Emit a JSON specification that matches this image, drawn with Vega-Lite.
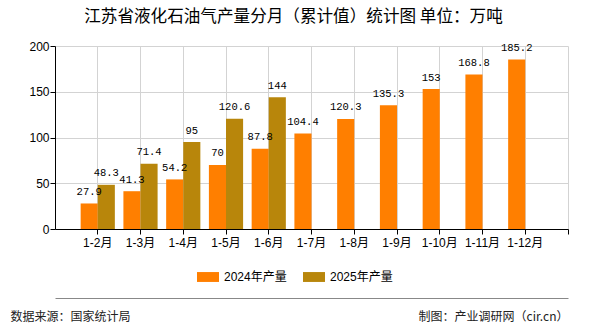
{
  "$schema": "https://vega.github.io/schema/vega-lite/v6.json",
  "width": 513,
  "height": 183,
  "autosize": {"type": "none"},
  "padding": {"left": 55, "top": 46, "right": 22, "bottom": 101},
  "background": "white",
  "title": {
    "text": "江苏省液化石油气产量分月（累计值）统计图 单位：万吨",
    "font": "Noto Sans CJK SC",
    "fontSize": 16.6,
    "fontWeight": "normal",
    "color": "#000000",
    "anchor": "middle",
    "frame": "group",
    "dx": -18,
    "offset": 14
  },
  "data": {
    "values": [
      {"month": "1-2月", "series": "2024年产量", "value": 27.9},
      {"month": "1-3月", "series": "2024年产量", "value": 41.3},
      {"month": "1-4月", "series": "2024年产量", "value": 54.2},
      {"month": "1-5月", "series": "2024年产量", "value": 70},
      {"month": "1-6月", "series": "2024年产量", "value": 87.8},
      {"month": "1-7月", "series": "2024年产量", "value": 104.4},
      {"month": "1-8月", "series": "2024年产量", "value": 120.3},
      {"month": "1-9月", "series": "2024年产量", "value": 135.3},
      {"month": "1-10月", "series": "2024年产量", "value": 153},
      {"month": "1-11月", "series": "2024年产量", "value": 168.8},
      {"month": "1-12月", "series": "2024年产量", "value": 185.2},
      {"month": "1-2月", "series": "2025年产量", "value": 48.3},
      {"month": "1-3月", "series": "2025年产量", "value": 71.4},
      {"month": "1-4月", "series": "2025年产量", "value": 95},
      {"month": "1-5月", "series": "2025年产量", "value": 120.6},
      {"month": "1-6月", "series": "2025年产量", "value": 144}
    ]
  },
  "layer": [
    {
      "mark": {"type": "bar"},
      "encoding": {
        "x": {
          "field": "month",
          "type": "nominal",
          "sort": null,
          "scale": {
            "domain": ["1-2月", "1-3月", "1-4月", "1-5月", "1-6月", "1-7月", "1-8月", "1-9月", "1-10月", "1-11月", "1-12月", ""],
            "paddingInner": 0,
            "paddingOuter": 0
          },
          "axis": {
            "orient": "bottom",
            "bandPosition": 1,
            "labelOffset": 21.375,
            "labelAngle": 0,
            "labelFont": "Liberation Sans, Noto Sans CJK SC",
            "labelFontSize": 12,
            "labelColor": "#000000",
            "labelPadding": 3,
            "tickColor": "#000000",
            "tickSize": 5,
            "domainColor": "#000000",
            "domainWidth": 1,
            "grid": true,
            "gridColor": "#d3d3d3",
            "gridWidth": 1,
            "title": "数据来源：国家统计局",
            "titleFont": "Noto Sans CJK SC",
            "titleFontSize": 12,
            "titleFontWeight": "normal",
            "titleColor": "#222222",
            "titleX": -45,
            "titleY": 91,
            "titleAlign": "left",
            "titleBaseline": "alphabetic"
          }
        },
        "xOffset": {
          "field": "series",
          "type": "nominal",
          "scale": {"domain": ["2024年产量", "2025年产量"], "range": [25.65, 59.85], "paddingInner": 0, "paddingOuter": 0}
        },
        "y": {
          "field": "value",
          "type": "quantitative",
          "scale": {"domain": [0, 200], "nice": false},
          "axis": {
            "values": [0, 50, 100, 150, 200],
            "title": null,
            "labelFont": "Liberation Sans",
            "labelFontSize": 12,
            "labelColor": "#000000",
            "labelPadding": 1,
            "tickColor": "#000000",
            "tickSize": 5,
            "domainColor": "#000000",
            "grid": true,
            "gridColor": "#d3d3d3",
            "gridWidth": 1
          }
        },
        "color": {
          "field": "series",
          "type": "nominal",
          "scale": {"domain": ["2024年产量", "2025年产量"], "range": ["#FF7F00", "#B8860B"]},
          "legend": {
            "orient": "none",
            "direction": "horizontal",
            "legendX": 142,
            "legendY": 220,
            "title": null,
            "symbolType": "M-1,-0.45H1V0.45H-1Z",
            "symbolSize": 484,
            "symbolStrokeWidth": 0,
            "labelFont": "Liberation Sans, Noto Sans CJK SC",
            "labelFontSize": 12,
            "labelColor": "#000000",
            "labelOffset": 5,
            "columnPadding": 16
          }
        }
      }
    },
    {
      "mark": {"type": "text", "font": "Liberation Mono", "fontSize": 10.5, "color": "#000000", "baseline": "alphabetic", "dy": -8.5},
      "encoding": {
        "x": {
          "field": "month",
          "type": "nominal",
          "sort": null,
          "axis": {
            "orient": "bottom",
            "offset": 69,
            "labels": false,
            "ticks": false,
            "grid": false,
            "domainColor": "#888888",
            "domainWidth": 1,
            "title": "制图：产业调研网（cir.cn）",
            "titleFont": "Noto Sans CJK SC",
            "titleFontSize": 12,
            "titleFontWeight": "normal",
            "titleColor": "#222222",
            "titleX": 513,
            "titleY": 22,
            "titleAlign": "right",
            "titleBaseline": "alphabetic"
          }
        },
        "xOffset": {"field": "series", "type": "nominal"},
        "y": {"field": "value", "type": "quantitative"},
        "text": {"field": "value", "type": "quantitative"}
      }
    }
  ],
  "resolve": {"axis": {"x": "independent"}},
  "config": {
    "view": {"stroke": null}
  }
}
